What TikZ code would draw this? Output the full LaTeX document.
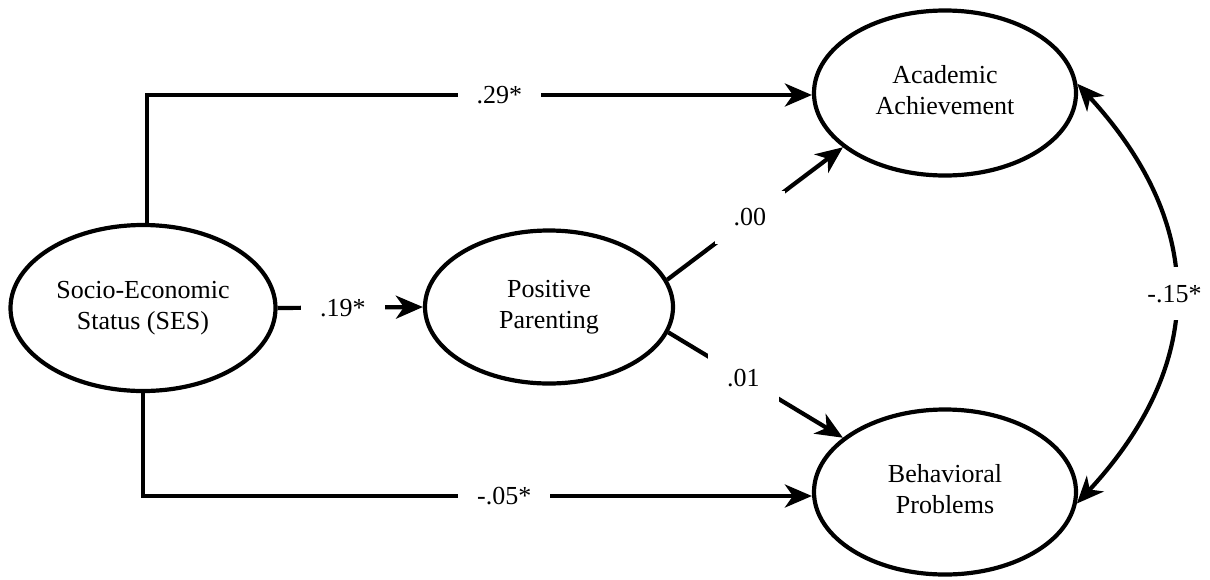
\documentclass[tikz,border=0pt]{standalone}
\usepackage{fontspec}
\setmainfont{Liberation Serif}
\newfontfamily\tnr{Liberation Serif}
\usetikzlibrary{shapes.geometric,arrows.meta}
\begin{document}
\begin{tikzpicture}[x=1pt,y=-1pt,
  every node/.style={font=\tnr\fontsize{26}{31}\selectfont},
  latent/.style={draw, ellipse, line width=4.2pt, align=center, inner sep=0pt},
  lbl/.style={fill=white, inner xsep=19pt, inner ysep=18pt, text height=17pt, text depth=0pt},
  arr/.style={line width=4.2pt, -{Stealth[length=27pt,width=23pt,inset=8pt]}},
  darr/.style={line width=4.2pt, {Stealth[length=27pt,width=23pt,inset=8pt]}-{Stealth[length=27pt,width=23pt,inset=8pt]}}
]
\useasboundingbox (0,0) rectangle (1210,579);
\node[latent, minimum width=265pt, minimum height=166pt] (ses) at (143,308) {\strut Socio-Economic\\\strut Status (SES)};
\node[latent, minimum width=248pt, minimum height=153pt] (pp) at (549,307) {\strut Positive\\\strut Parenting};
\node[latent, minimum width=262pt, minimum height=165pt] (acad) at (945,93) {\strut Academic\\\strut Achievement};
\node[latent, minimum width=262pt, minimum height=165pt] (beh) at (945,492) {\strut Behavioral\\\strut Problems};

\draw[arr] ([xshift=4pt]ses.north) |- node[lbl, pos=0.765] {.29*} ([yshift=-2pt]acad.west);
\draw[arr] (ses.south) |- node[lbl, pos=0.77] {-.05*} ([yshift=-4pt]beh.west);
\draw[arr] (ses.east) -- node[lbl, pos=0.45] {.19*} (pp.west);
\draw[arr] (pp.13) -- node[lbl, pos=0.47] {.00} (acad.208);
\draw[arr] (pp.348) -- node[lbl, pos=0.43] {.01} (beh.152);
\draw[darr] (acad.4) .. controls (1207,225) and (1207,363) .. node[lbl, pos=0.5] {-.15*} (beh.-5);
\end{tikzpicture}
\end{document}
